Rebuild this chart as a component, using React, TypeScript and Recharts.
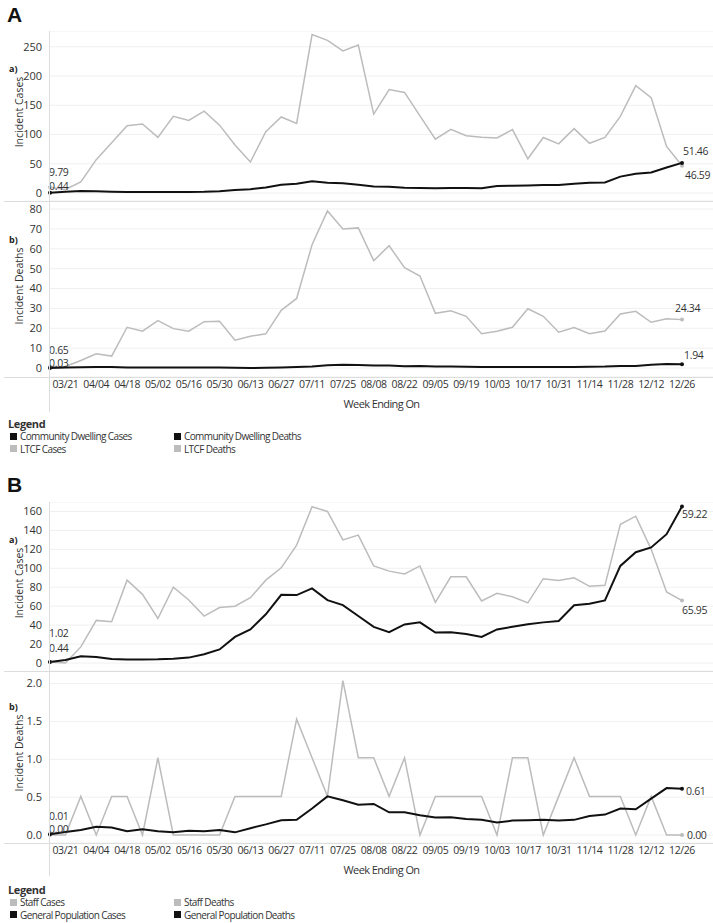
import React from 'react';
import { LineChart, Line, XAxis, YAxis, CartesianGrid } from 'recharts';

// week ending dates (first week is not labelled on the axis)
const WEEKS = [
  '03/14', '03/21', '03/28', '04/04', '04/11', '04/18', '04/25', '05/02', '05/09', '05/16',
  '05/23', '05/30', '06/06', '06/13', '06/20', '06/27', '07/04', '07/11', '07/18', '07/25',
  '08/01', '08/08', '08/15', '08/22', '08/29', '09/05', '09/12', '09/19', '09/26', '10/03',
  '10/10', '10/17', '10/24', '10/31', '11/07', '11/14', '11/21', '11/28', '12/05', '12/12',
  '12/19', '12/26',
];
const TICK_WEEKS = [
  '03/21', '04/04', '04/18', '05/02', '05/16', '05/30', '06/13', '06/27', '07/11', '07/25',
  '08/08', '08/22', '09/05', '09/19', '10/03', '10/17', '10/31', '11/14', '11/28', '12/12', '12/26',
];

// Panel A
const LTCF_CASES = [
  9.79, 6, 19, 57, 86, 115, 118, 95, 131, 124, 140, 116, 82, 53, 105, 130, 119, 271, 261, 243,
  253, 135, 177, 172, 132, 92, 109, 98, 95.5, 94, 108.5, 58.5, 95, 84, 110, 85, 95, 131, 183.5, 163,
  79.5, 46.59,
];
const COMMUNITY_CASES = [
  0.44, 2, 3.4, 3, 2, 1.5, 1.5, 1.5, 1.5, 1.8, 2, 3, 5, 6.5, 9.5, 14, 16, 20, 17.5, 16.5,
  14, 11, 10.5, 9, 8.5, 8, 8.5, 8.5, 8, 12, 12.5, 13, 13.5, 13.5, 16, 17.5, 18, 28, 33, 35,
  43.5, 51.46,
];
const LTCF_DEATHS = [
  0.65, 0.8, 3.8, 7.2, 6, 20.5, 18.5, 23.8, 19.8, 18.5, 23.3, 23.5, 14, 16, 17.2, 29, 35, 62, 79, 70,
  70.5, 54, 61.5, 50.5, 46.3, 27.5, 28.8, 26, 17.2, 18.5, 20.5, 29.8, 26, 18, 20.3, 17.2, 18.6, 27.2, 28.5, 23,
  24.8, 24.34,
];
const COMMUNITY_DEATHS = [
  0.03, 0.2, 0.4, 0.5, 0.5, 0.3, 0.2, 0.2, 0.2, 0.2, 0.2, 0.2, 0.1, 0, 0.1, 0.3, 0.5, 0.7, 1.4, 1.6,
  1.5, 1.3, 1.2, 0.9, 1.0, 0.7, 0.7, 0.6, 0.5, 0.5, 0.5, 0.5, 0.5, 0.5, 0.5, 0.6, 0.7, 1.0, 1.0, 1.6,
  2.0, 1.94,
];

// Panel B
const STAFF_CASES = [
  1.02, 0, 17, 45, 43.5, 87.5, 72.5, 47, 80, 66.5, 49.5, 58.5, 60, 69, 87.5, 100.5, 124.5, 165, 160, 130,
  135, 102.5, 97, 94, 102.5, 64, 91, 91, 65.5, 73.5, 70, 63.5, 89, 87, 90, 81, 82, 146.5, 155, 120,
  75, 65.95,
];
const GENPOP_CASES = [
  1, 3.2, 7, 6.4, 4.3, 3.6, 3.6, 3.9, 4.6, 5.7, 9.3, 14.3, 27.5, 35.4, 51.4, 72, 71.7, 78.8, 66.4, 61.1,
  49.6, 38.2, 32.5, 40.7, 42.9, 32.1, 32.5, 30.7, 27.5, 35.4, 38.2, 41, 42.9, 44.3, 61, 62.5, 66, 102.5, 117, 122,
  136, 165.3,
];
const STAFF_DEATHS = [
  0, 0, 0.51, 0, 0.51, 0.51, 0, 1.02, 0, 0, 0, 0, 0.51, 0.51, 0.51, 0.51, 1.53, 1.02, 0.51, 2.04,
  1.02, 1.02, 0.51, 1.02, 0, 0.51, 0.51, 0.51, 0.51, 0, 1.02, 1.02, 0, 0.51, 1.02, 0.51, 0.51, 0.51, 0, 0.51,
  0, 0,
];
const GENPOP_DEATHS = [
  0.01, 0.04, 0.065, 0.11, 0.1, 0.05, 0.075, 0.05, 0.035, 0.055, 0.05, 0.065, 0.035, 0.09, 0.14, 0.195, 0.2, 0.35, 0.51, 0.46,
  0.4, 0.41, 0.3, 0.3, 0.26, 0.23, 0.235, 0.21, 0.2, 0.165, 0.19, 0.195, 0.2, 0.19, 0.2, 0.25, 0.27, 0.35, 0.34, 0.48,
  0.62, 0.61,
];

const GREY = '#bcbcbc';
const BLACK = '#111111';
const TEXT = '#333333';
const FONT = '"Open Sans", "Noto Sans", sans-serif';
const W = 713;
const PLOT_LEFT = 50;

type EndLabel = { text: string; dx: number; dy: number };
type Series = {
  key: string;
  values: number[];
  color: string;
  width: number;
  start: EndLabel;
  end: EndLabel;
};

// dots + value labels only on the first and last week
const makeDot = (s: Series) => (p: any) => {
  const { cx, cy, index } = p;
  const last = s.values.length - 1;
  if (index !== 0 && index !== last) return <g key={`${s.key}-${index}`} />;
  const lab = index === 0 ? s.start : s.end;
  return (
    <g key={`${s.key}-${index}`}>
      <circle cx={cx} cy={cy} r={2} fill={s.color} />
      <text
        x={cx + lab.dx}
        y={cy + lab.dy}
        dominantBaseline="central"
        fontSize={10.5}
        fill={TEXT}
        fontFamily={FONT}
        letterSpacing={-0.3}
      >
        {lab.text}
      </text>
    </g>
  );
};

interface SubPlotProps {
  top: number;
  height: number;
  series: Series[];
  domain: [number, number];
  ticks: number[];
  padTop: number;
  padBottom: number;
  fmt?: (v: number) => string;
  showAxis?: boolean;
}

const SubPlot: React.FC<SubPlotProps> = ({ top, height, series, domain, ticks, padTop, padBottom, fmt, showAxis }) => {
  const rows = WEEKS.map((week, i) => {
    const r: any = { week };
    series.forEach((s) => { r[s.key] = s.values[i]; });
    return r;
  });
  const axisH = showAxis ? 36 : 0;
  return (
    <div style={{ position: 'absolute', left: 0, top }}>
      <LineChart width={W} height={height + axisH} data={rows} margin={{ top: 0, right: 0, bottom: 0, left: 0 }}>
        <CartesianGrid vertical={false} stroke="#f0f0f0" />
        <XAxis
          dataKey="week"
          scale="point"
          padding={{ left: 0, right: 31 }}
          hide={!showAxis}
          height={axisH}
          interval={0}
          tickLine={false}
          axisLine={false}
          tickSize={2}
          tickMargin={2}
          tick={{ fontSize: 10.5, fill: TEXT, fontFamily: FONT, letterSpacing: -0.4 }}
          tickFormatter={(w: string) => (TICK_WEEKS.includes(w) ? w : '')}
          label={showAxis ? { value: 'Week Ending On', position: 'insideBottom', offset: 5, fontSize: 11, fill: TEXT, fontFamily: FONT, letterSpacing: -0.6 } : undefined}
        />
        <YAxis
          width={PLOT_LEFT}
          domain={domain}
          ticks={ticks}
          padding={{ top: padTop, bottom: padBottom }}
          tickLine={false}
          axisLine={false}
          tickSize={6}
          tickMargin={2}
          interval={0}
          tick={{ fontSize: 11, fill: TEXT, fontFamily: FONT }}
          tickFormatter={fmt}
        />
        {series.map((s) => (
          <Line
            key={s.key}
            type="linear"
            dataKey={s.key}
            stroke={s.color}
            strokeWidth={s.width}
            dot={makeDot(s)}
            activeDot={false}
            isAnimationActive={false}
          />
        ))}
      </LineChart>
    </div>
  );
};

const A_CASES: Series[] = [
  { key: 'ltcf', values: LTCF_CASES, color: GREY, width: 1.5, start: { text: '9.79', dx: -1, dy: -15 }, end: { text: '46.59', dx: 3, dy: 9 } },
  { key: 'comm', values: COMMUNITY_CASES, color: BLACK, width: 2, start: { text: '0.44', dx: -1, dy: -7 }, end: { text: '51.46', dx: 1, dy: -12 } },
];
const A_DEATHS: Series[] = [
  { key: 'ltcf', values: LTCF_DEATHS, color: GREY, width: 1.5, start: { text: '0.65', dx: -1, dy: -17 }, end: { text: '24.34', dx: -7, dy: -12 } },
  { key: 'comm', values: COMMUNITY_DEATHS, color: BLACK, width: 2, start: { text: '0.03', dx: -1, dy: -5 }, end: { text: '1.94', dx: 2, dy: -9 } },
];
const B_CASES: Series[] = [
  { key: 'staff', values: STAFF_CASES, color: GREY, width: 1.5, start: { text: '1.02', dx: -1, dy: -29 }, end: { text: '65.95', dx: 0, dy: 9 } },
  { key: 'gen', values: GENPOP_CASES, color: BLACK, width: 2, start: { text: '0.44', dx: -1, dy: -14 }, end: { text: '59.22', dx: 0, dy: 8 } },
];
const B_DEATHS: Series[] = [
  { key: 'staff', values: STAFF_DEATHS, color: GREY, width: 1.5, start: { text: '0.00', dx: -1, dy: -6 }, end: { text: '0.00', dx: 5, dy: 0 } },
  { key: 'gen', values: GENPOP_DEATHS, color: BLACK, width: 2, start: { text: '0.01', dx: -1, dy: -18 }, end: { text: '0.61', dx: 4, dy: 2 } },
];

const LEGEND_A = [
  [{ label: 'Community Dwelling Cases', color: BLACK }, { label: 'Community Dwelling Deaths', color: BLACK }],
  [{ label: 'LTCF Cases', color: GREY }, { label: 'LTCF Deaths', color: GREY }],
];
const LEGEND_B = [
  [{ label: 'Staff Cases', color: GREY }, { label: 'Staff Deaths', color: GREY }],
  [{ label: 'General Population Cases', color: BLACK }, { label: 'General Population Deaths', color: BLACK }],
];

const Legend: React.FC<{ top: number; rows: { label: string; color: string }[][] }> = ({ top, rows }) => (
  <div style={{ position: 'absolute', left: 0, top, fontFamily: FONT, color: TEXT }}>
    <div style={{ position: 'absolute', left: 8, top: -7, fontSize: 11, fontWeight: 700, letterSpacing: -0.4, whiteSpace: 'nowrap' }}>Legend</div>
    {rows.map((row, r) =>
      row.map((item, c) => (
        <div
          key={`${r}-${c}`}
          style={{ position: 'absolute', left: c === 0 ? 10 : 174, top: 13 + r * 12.5 - 7, height: 14, display: 'flex', alignItems: 'center', whiteSpace: 'nowrap' }}
        >
          <span style={{ width: 7, height: 7, background: item.color, marginRight: 3, display: 'inline-block' }} />
          <span style={{ fontSize: 10, letterSpacing: -0.6 }}>{item.label}</span>
        </div>
      ))
    )}
  </div>
);

const HLine: React.FC<{ y: number }> = ({ y }) => (
  <div style={{ position: 'absolute', left: 4, top: y, width: W - 4, height: 1, background: '#dddddd' }} />
);
const VLine: React.FC<{ y1: number; y2: number }> = ({ y1, y2 }) => (
  <div style={{ position: 'absolute', left: PLOT_LEFT - 1, top: y1, width: 1, height: y2 - y1, background: '#dddddd' }} />
);

const SideLabel: React.FC<{ cy: number; text: string; tag: string }> = ({ cy, text, tag }) => (
  <g fontFamily={FONT}>
    <text x={19} y={cy} transform={`rotate(-90, 19, ${cy})`} textAnchor="middle" dominantBaseline="central" fontSize={10.5} fill={TEXT}>
      {text}
    </text>
    <text x={9} y={cy - (text.length * 5.4) / 2 - 6} fontSize={9} fontWeight={700} fill="#222" dominantBaseline="central">
      {tag}
    </text>
  </g>
);

const App: React.FC = () => (
  <div style={{ position: 'absolute', left: 0, top: 0, width: W, height: 923, background: '#fff', overflow: 'hidden' }}>
    {/* panel A */}
    <SubPlot top={31} height={170} series={A_CASES} domain={[0, 277]} ticks={[0, 50, 100, 150, 200, 250]} padTop={0} padBottom={8} />
    <SubPlot top={201} height={176} series={A_DEATHS} domain={[0, 80]} ticks={[0, 10, 20, 30, 40, 50, 60, 70, 80]} padTop={8} padBottom={9} showAxis />
    <HLine y={201} />
    <HLine y={377} />
    <VLine y1={31} y2={412} />
    <Legend top={423} rows={LEGEND_A} />

    {/* panel B */}
    <SubPlot top={502} height={169} series={B_CASES} domain={[0, 170]} ticks={[0, 20, 40, 60, 80, 100, 120, 140, 160]} padTop={0} padBottom={8} />
    <SubPlot
      top={671}
      height={172}
      series={B_DEATHS}
      domain={[0, 2.1]}
      ticks={[0, 0.5, 1, 1.5, 2]}
      padTop={5}
      padBottom={8}
      fmt={(v: number) => v.toFixed(1)}
      showAxis
    />
    <HLine y={671} />
    <HLine y={843} />
    <VLine y1={502} y2={876} />
    <Legend top={889} rows={LEGEND_B} />

    <svg width={W} height={923} style={{ position: 'absolute', left: 0, top: 0, pointerEvents: 'none' }}>
      <text x={7} y={14} dominantBaseline="central" fontSize={21} fontWeight={700} fontFamily='"Liberation Sans", Arial, sans-serif' fill="#111">A</text>
      <text x={7} y={484} dominantBaseline="central" fontSize={21} fontWeight={700} fontFamily='"Liberation Sans", Arial, sans-serif' fill="#111">B</text>
      <SideLabel cy={112} text="Incident Cases" tag="a)" />
      <SideLabel cy={286} text="Incident Deaths" tag="b)" />
      <SideLabel cy={583} text="Incident Cases" tag="a)" />
      <SideLabel cy={753} text="Incident Deaths" tag="b)" />
    </svg>
  </div>
);

export default App;
